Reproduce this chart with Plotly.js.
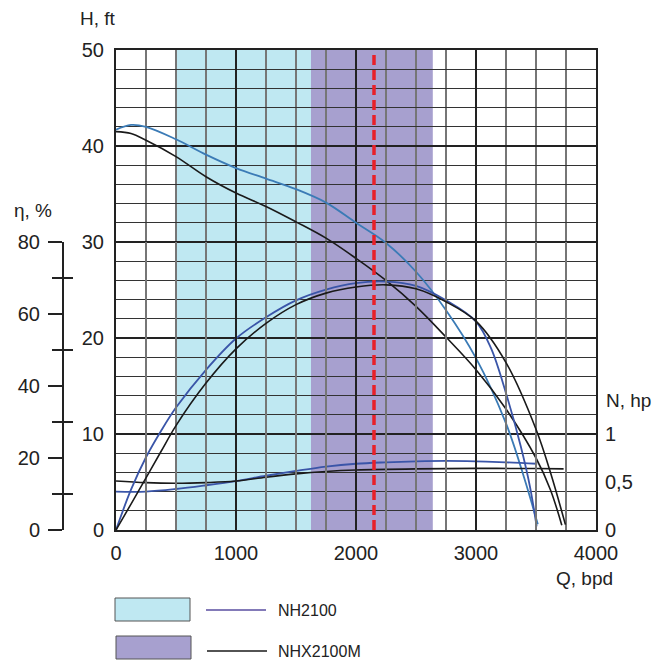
<!DOCTYPE html>
<html>
<head>
<meta charset="utf-8">
<script src="https://cdn.plot.ly/plotly-3.0.1.min.js"></script>
<style>html,body{margin:0;padding:0;background:#fff;}#chart{width:658px;height:660px;}</style>
</head>
<body>
<div id="chart"></div>
<script>
// ---- Data ----
// Operating ranges (bpd)
const bandNames = ["NH2100", "NHX2100M"];
const bandStart = [500, 1625];
const bandEnd = [1625, 2640];
const dutyPoint = 2150;

// NH2100 head (ft)
const nhHeadQ = [0, 125, 250, 500, 750, 1000, 1250, 1500, 1750, 2000, 2250, 2500, 2750, 3000, 3250, 3400, 3515];
const nhHeadH = [41.7, 42.2, 42.0, 40.7, 39.1, 37.7, 36.6, 35.5, 34.1, 32.0, 29.9, 26.9, 22.9, 17.9, 11.1, 5.5, 0.6];
// NHX2100M head (ft)
const nhxHeadQ = [0, 125, 250, 500, 750, 1000, 1250, 1500, 1750, 2000, 2250, 2500, 2750, 3000, 3250, 3500, 3620, 3715];
const nhxHeadH = [41.5, 41.3, 40.6, 38.9, 36.8, 35.1, 33.7, 32.1, 30.4, 28.3, 26.0, 23.3, 20.1, 16.7, 12.6, 7.5, 4.2, 0.5];

// NH2100 efficiency (%)
const nhEffQ = [0, 125, 250, 375, 500, 750, 1000, 1250, 1500, 1750, 2000, 2250, 2500, 2750, 3000, 3125, 3250, 3375, 3450, 3505];
const nhEff = [0, 11.2, 20.2, 27.5, 34.0, 44.5, 53.2, 59.1, 63.8, 66.8, 68.6, 69.0, 67.8, 63.8, 57.9, 50.5, 38.0, 23.0, 12.0, 1.0];
// NHX2100M efficiency (%)
const nhxEffQ = [0, 125, 250, 375, 500, 750, 1000, 1250, 1500, 1750, 2000, 2250, 2500, 2750, 3000, 3250, 3500, 3625, 3745];
const nhxEff = [0, 7.2, 14.5, 21.8, 29.0, 40.8, 50.3, 57.4, 62.6, 65.8, 67.5, 68.1, 67.0, 63.4, 58.0, 46.5, 28.0, 15.5, 1.5];

// NH2100 power (hp)
const nhPowQ = [0, 250, 500, 750, 1000, 1250, 1500, 1750, 2000, 2250, 2500, 2750, 3000, 3250, 3510];
const nhPow = [0.40, 0.40, 0.427, 0.466, 0.51, 0.565, 0.615, 0.66, 0.69, 0.705, 0.715, 0.72, 0.715, 0.705, 0.69];
// NHX2100M power (hp)
const nhxPowQ = [0, 250, 500, 750, 1000, 1250, 1500, 1750, 2000, 2500, 3000, 3500, 3730];
const nhxPow = [0.51, 0.493, 0.487, 0.494, 0.51, 0.55, 0.585, 0.61, 0.625, 0.637, 0.642, 0.64, 0.637];

// Tick labels
const qTicks = [0, 1000, 2000, 3000, 4000];
const hTicks = [0, 10, 20, 30, 40, 50];
const etaTicks = [0, 20, 40, 60, 80];
const etaMinorTicks = [10, 30, 50, 70];
const nTicks = [0, 0.5, 1];
const nTickText = ["0", "0,5", "1"];

// ---- Styles ----
const FONT = "Liberation Sans, Arial, Helvetica, sans-serif";
const TXT = "#222222";
const steel = "#3b7bb6";
const royal = "#3a55a8";
const black = "#1a1a1a";
const bandColors = ["#bfe8f2", "#a7a0cf"];
const SM = 1;

const traces = [
  {x: nhHeadQ, y: nhHeadH, xaxis: "x", yaxis: "y", mode: "lines", line: {color: steel, width: 1.8, shape: "spline", smoothing: SM}},
  {x: nhxHeadQ, y: nhxHeadH, xaxis: "x", yaxis: "y", mode: "lines", line: {color: black, width: 1.6, shape: "spline", smoothing: SM}},
  {x: nhEffQ, y: nhEff, xaxis: "x", yaxis: "y2", mode: "lines", line: {color: royal, width: 1.8, shape: "spline", smoothing: SM}},
  {x: nhxEffQ, y: nhxEff, xaxis: "x", yaxis: "y4", mode: "lines", line: {color: black, width: 1.6, shape: "spline", smoothing: SM}},
  {x: nhPowQ, y: nhPow, xaxis: "x", yaxis: "y3", mode: "lines", line: {color: royal, width: 1.8, shape: "spline", smoothing: SM}},
  {x: nhxPowQ, y: nhxPow, xaxis: "x", yaxis: "y3", mode: "lines", line: {color: black, width: 1.6, shape: "spline", smoothing: SM}}
];

// plot area: left px 116, right px 596, top 50, bottom 530
const ML = 40, MR = 62, MT = 50, MB = 130, W = 658, H = 660;
const PW = W - ML - MR, PH = H - MT - MB;
const px = v => (v - ML) / PW;
const py = v => (H - MB - v) / PH;

const shapes = [];
for (let i = 0; i < bandStart.length; i++) {
  shapes.push({type: "rect", xref: "x", yref: "paper", x0: bandStart[i], x1: bandEnd[i], y0: 0, y1: 1,
    fillcolor: bandColors[i], line: {width: 0}, layer: "below"});
}
shapes.push({type: "line", xref: "x", yref: "y", x0: dutyPoint, x1: dutyPoint, y0: 0, y1: 50.3,
  line: {color: "#e8202a", width: 3.5, dash: "10px,5px"}, layer: "above"});
// legend keys
shapes.push({type: "rect", xref: "paper", yref: "paper", x0: px(115), x1: px(190), y0: py(598), y1: py(621),
  fillcolor: bandColors[0], line: {color: "#555", width: 1}});
shapes.push({type: "rect", xref: "paper", yref: "paper", x0: px(116), x1: px(191), y0: py(636), y1: py(659),
  fillcolor: bandColors[1], line: {color: "#555", width: 1}});
shapes.push({type: "line", xref: "paper", yref: "paper", x0: px(206), x1: px(266), y0: py(610), y1: py(610),
  line: {color: "#5a4ea0", width: 1.5}});
shapes.push({type: "line", xref: "paper", yref: "paper", x0: px(207), x1: px(267), y0: py(651), y1: py(651),
  line: {color: black, width: 1.5}});

const annFont = {family: FONT, size: 19, color: TXT};
const legFont = {family: FONT, size: 16, color: TXT};
const annotations = [
  {text: "H, ft", xref: "paper", yref: "paper", x: px(78), y: py(18), xanchor: "left", yanchor: "middle", showarrow: false, font: annFont},
  {text: "η, %", xref: "paper", yref: "paper", x: px(12), y: py(210), xanchor: "left", yanchor: "middle", showarrow: false, font: annFont},
  {text: "Q, bpd", xref: "paper", yref: "paper", x: px(615), y: py(578), xanchor: "right", yanchor: "middle", showarrow: false, font: annFont},
  {text: "N, hp", xref: "paper", yref: "paper", x: px(604), y: py(400), xanchor: "left", yanchor: "middle", showarrow: false, font: annFont},
  {text: bandNames[0], xref: "paper", yref: "paper", x: px(276), y: py(610), xanchor: "left", yanchor: "middle", showarrow: false, font: legFont},
  {text: bandNames[1], xref: "paper", yref: "paper", x: px(276), y: py(651), xanchor: "left", yanchor: "middle", showarrow: false, font: legFont}
];

const tickFont = {family: FONT, size: 20, color: TXT};
const etaPos = px(62);
const layout = {
  width: W, height: H,
  margin: {l: ML, r: MR, t: MT, b: MB, pad: 0},
  paper_bgcolor: "#ffffff", plot_bgcolor: "rgba(0,0,0,0)",
  showlegend: false,
  font: {family: FONT, color: TXT},
  xaxis: {
    domain: [px(116), 1], range: [0, 4000], tickmode: "array", tickvals: qTicks,
    showgrid: true, gridcolor: "#222", gridwidth: 2,
    minor: {dtick: 250, tick0: 0, showgrid: true, gridcolor: "#767676", gridwidth: 1.5},
    showline: true, linecolor: "#222", linewidth: 2, mirror: true,
    ticks: "", zeroline: false, tickfont: tickFont, ticklabelstandoff: 4, anchor: "y"
  },
  yaxis: {
    domain: [0, 1], range: [0, 50], tickmode: "array", tickvals: hTicks,
    showgrid: true, gridcolor: "#222", gridwidth: 2,
    minor: {dtick: 2, tick0: 0, showgrid: true, gridcolor: "#333", gridwidth: 1.3},
    showline: true, linecolor: "#222", linewidth: 2, mirror: true,
    ticks: "", zeroline: false, tickfont: tickFont, ticklabelstandoff: 6, anchor: "x"
  },
  yaxis2: {
    domain: [0, 0.6], range: [0, 80], anchor: "free", position: etaPos, side: "left",
    tickmode: "array", tickvals: etaTicks, ticks: "outside", ticklen: 14, tickwidth: 1.5, tickcolor: "#222",
    minor: {tickmode: "array", tickvals: etaMinorTicks, ticks: "outside", ticklen: 10, tickwidth: 1.5, tickcolor: "#222", showgrid: false},
    showline: true, linecolor: "#222", linewidth: 1.5, showgrid: false, zeroline: false,
    tickfont: tickFont, ticklabelstandoff: 4
  },
  yaxis4: {
    domain: [0, 0.6], range: [0, 80], anchor: "free", position: etaPos, side: "left",
    tickmode: "array", tickvals: etaMinorTicks, ticks: "inside", ticklen: 10, tickwidth: 1.5, tickcolor: "#222",
    showticklabels: false, showline: false, showgrid: false, zeroline: false
  },
  yaxis3: {
    overlaying: "y", side: "right", anchor: "x", range: [0, 5],
    tickmode: "array", tickvals: nTicks, ticktext: nTickText,
    showgrid: false, zeroline: false, showline: false, ticks: "",
    tickfont: tickFont, ticklabelstandoff: 8
  },
  shapes: shapes,
  annotations: annotations
};

Plotly.newPlot("chart", traces, layout, {staticPlot: true, displayModeBar: false});
</script>
</body>
</html>
